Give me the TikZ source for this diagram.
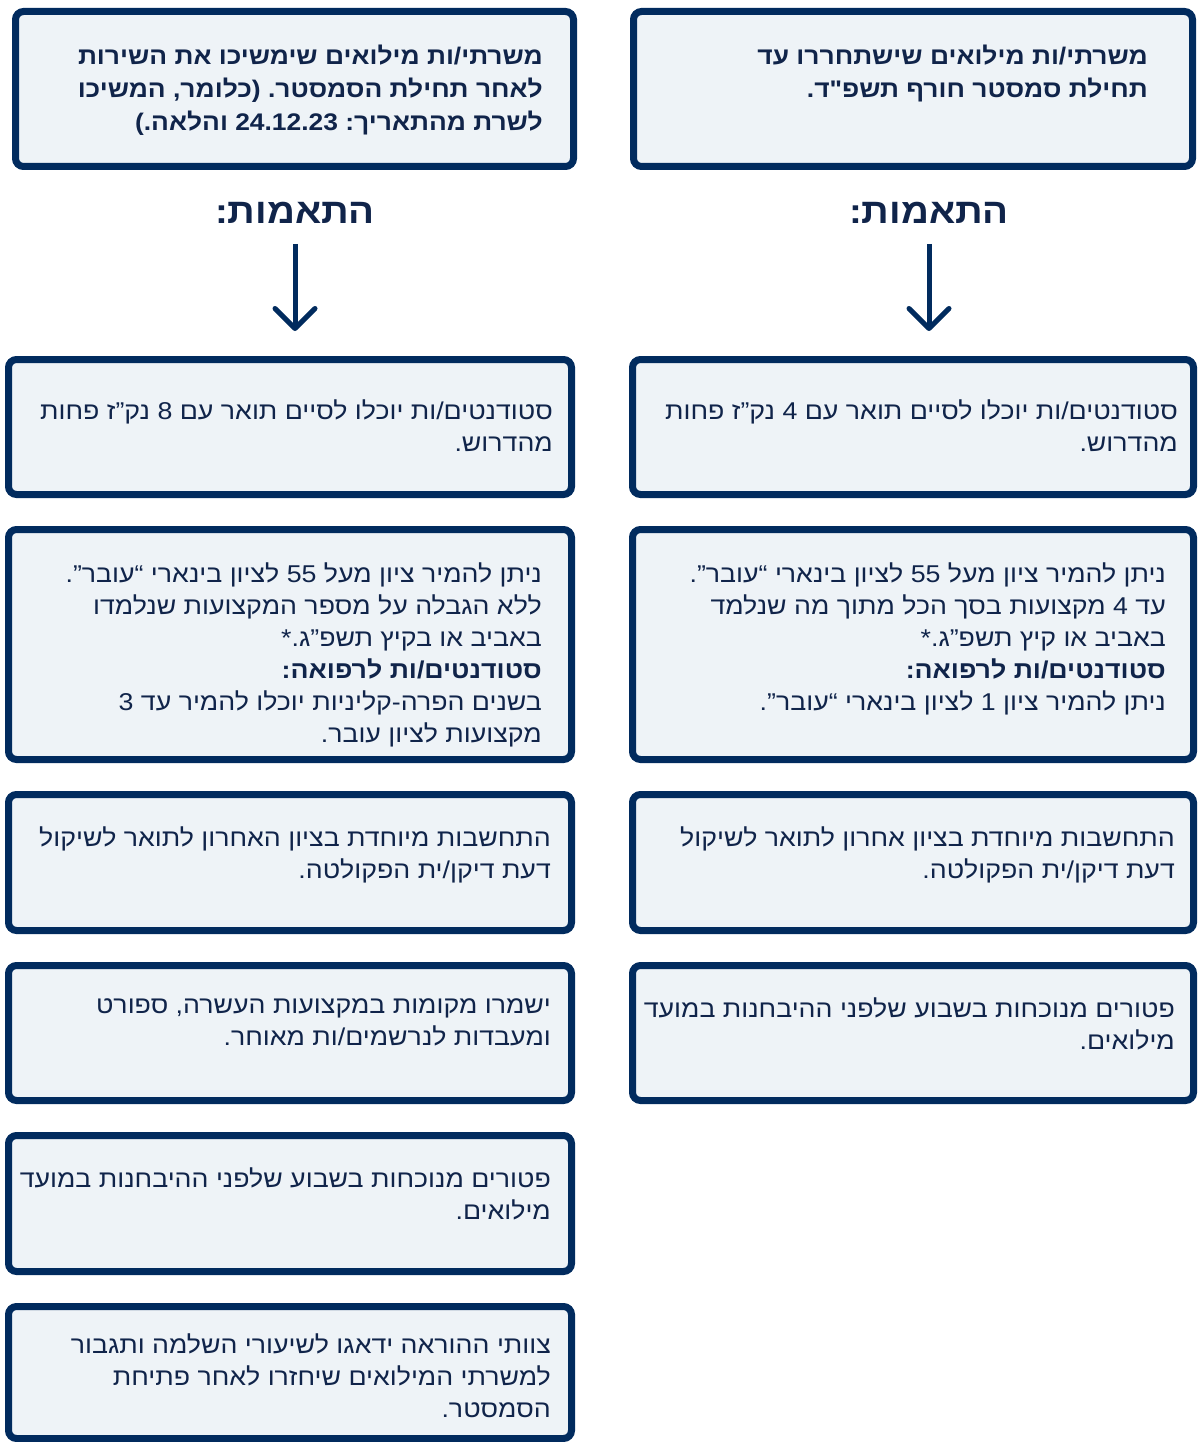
\documentclass[tikz,border=0pt]{standalone}
\usepackage{fontspec}
\newfontfamily\hebfont[Script=Hebrew, FakeStretch=1.1]{Liberation Sans}
\TeXXeTstate=1
\frenchspacing
\usepackage{xcolor}
\definecolor{frame}{HTML}{012B5E}
\definecolor{panelFill}{HTML}{EEF3F7}
\definecolor{ink}{HTML}{10244A}
\usepackage{tikz}
\usetikzlibrary{%
    positioning,
    arrows.meta
}
\newcommand{\rl}[1]{\beginR #1\endR}

\begin{document}
\begin{tikzpicture}[x=1pt, y=1pt,
                panel/.style={rectangle, rounded corners=8pt, draw=frame, line width=7pt, fill=panelFill, minimum height=135pt},
                leftcol/.style={panel, minimum width=563pt},
                rightcol/.style={panel, minimum width=561pt},
                note/.style={align=right, inner sep=0pt, text=ink, font=\hebfont\fontsize{24.3}{32}\selectfont},
                title/.style={align=right, inner sep=0pt, text=ink, font=\hebfont\bfseries\fontsize{24}{33}\selectfont},
                heading/.style={inner sep=0pt, text=ink, font=\hebfont\bfseries\fontsize{35}{40}\selectfont},
                flow/.style={draw=frame, line width=5pt, -{Straight Barb[length=20pt, width=40pt, round]}}
            ]

            \useasboundingbox (0,0) rectangle (1198,-1442);

            \node (l1) [panel, minimum width=558pt, minimum height=155pt] at (294.5,-89) {};
            \node (r1) [panel, minimum width=559pt, minimum height=155pt] at (913,-89) {};

            \node (headL) [heading] at (295,-213) {\rl{התאמות:}};
            \node (headR) [heading] at (929,-213) {\rl{התאמות:}};

            \node (l2) [leftcol] at (290,-427) {};
            \node (l3) [leftcol, minimum height=230pt, below=28pt of l2] {};
            \node (l4) [leftcol, minimum height=136pt, below=28pt of l3] {};
            \node (l5) [leftcol, below=28pt of l4] {};
            \node (l6) [leftcol, minimum height=136pt, below=28pt of l5] {};
            \node (l7) [leftcol, minimum height=132pt, below=28pt of l6] {};

            \node (r2) [rightcol] at (913,-427) {};
            \node (r3) [rightcol, minimum height=230pt, below=28pt of r2] {};
            \node (r4) [rightcol, minimum height=136pt, below=28pt of r3] {};
            \node (r5) [rightcol, below=28pt of r4] {};

            \draw [flow, shorten <=20pt, shorten >=25pt] (headL.south) -- (headL.south |- l2.north);
            \draw [flow, shorten <=20pt, shorten >=25pt] (headR.south) -- (headR.south |- r2.north);

            \node (l1txt) [title, below left=37pt and 34pt of l1.north east] {%
                \rl{משרתי/ות מילואים שימשיכו את השירות}\\
                \rl{לאחר תחילת הסמסטר. (כלומר, המשיכו}\\
                \rl{לשרת מהתאריך: 24.12.23 והלאה.)}};
            \node (r1txt) [title, below left=37pt and 48pt of r1.north east] {%
                \rl{משרתי/ות מילואים שישתחררו עד}\\
                \rl{תחילת סמסטר חורף תשפ"ד.}};

            \node (l2txt) [note, below left=44pt and 22pt of l2.north east] {%
                \rl{סטודנטים/ות יוכלו לסיים תואר עם 8 נק”ז פחות}\\
                \rl{מהדרוש.}};
            \node (r2txt) [note, below left=44pt and 19pt of r2.north east] {%
                \rl{סטודנטים/ות יוכלו לסיים תואר עם 4 נק”ז פחות}\\
                \rl{מהדרוש.}};

            \node (l3txt) [note, below left=37pt and 33pt of l3.north east] {%
                \rl{ניתן להמיר ציון מעל 55 לציון בינארי “עובר”.}\\
                \rl{ללא הגבלה על מספר המקצועות שנלמדו}\\
                \rl{באביב או בקיץ תשפ”ג.*}\\
                \rl{\textbf{סטודנטים/ות לרפואה:}}\\
                \rl{בשנים הפרה-קליניות יוכלו להמיר עד 3}\\
                \rl{מקצועות לציון עובר.}};
            \node (r3txt) [note, below left=37pt and 31pt of r3.north east] {%
                \rl{ניתן להמיר ציון מעל 55 לציון בינארי “עובר”.}\\
                \rl{עד 4 מקצועות בסך הכל מתוך מה שנלמד}\\
                \rl{באביב או קיץ תשפ”ג.*}\\
                \rl{\textbf{סטודנטים/ות לרפואה:}}\\
                \rl{ניתן להמיר ציון 1 לציון בינארי “עובר”.}};

            \node (l4txt) [note, below left=36pt and 24pt of l4.north east] {%
                \rl{התחשבות מיוחדת בציון האחרון לתואר לשיקול}\\
                \rl{דעת דיקן/ית הפקולטה.}};
            \node (r4txt) [note, below left=36pt and 22pt of r4.north east] {%
                \rl{התחשבות מיוחדת בציון אחרון לתואר לשיקול}\\
                \rl{דעת דיקן/ית הפקולטה.}};

            \node (l5txt) [note, below left=36pt and 24pt of l5.north east] {%
                \rl{ישמרו מקומות במקצועות העשרה, ספורט}\\
                \rl{ומעבדות לנרשמים/ות מאוחר.}};
            \node (r5txt) [note, below left=36pt and 22pt of r5.north east] {%
                \rl{פטורים מנוכחות בשבוע שלפני ההיבחנות במועד}\\
                \rl{מילואים.}};

            \node (l6txt) [note, below left=36pt and 24pt of l6.north east] {%
                \rl{פטורים מנוכחות בשבוע שלפני ההיבחנות במועד}\\
                \rl{מילואים.}};

            \node (l7txt) [note, below left=31pt and 24pt of l7.north east] {%
                \rl{צוותי ההוראה ידאגו לשיעורי השלמה ותגבור}\\
                \rl{למשרתי המילואים שיחזרו לאחר פתיחת}\\
                \rl{הסמסטר.}};
        \end{tikzpicture}
\end{document}
